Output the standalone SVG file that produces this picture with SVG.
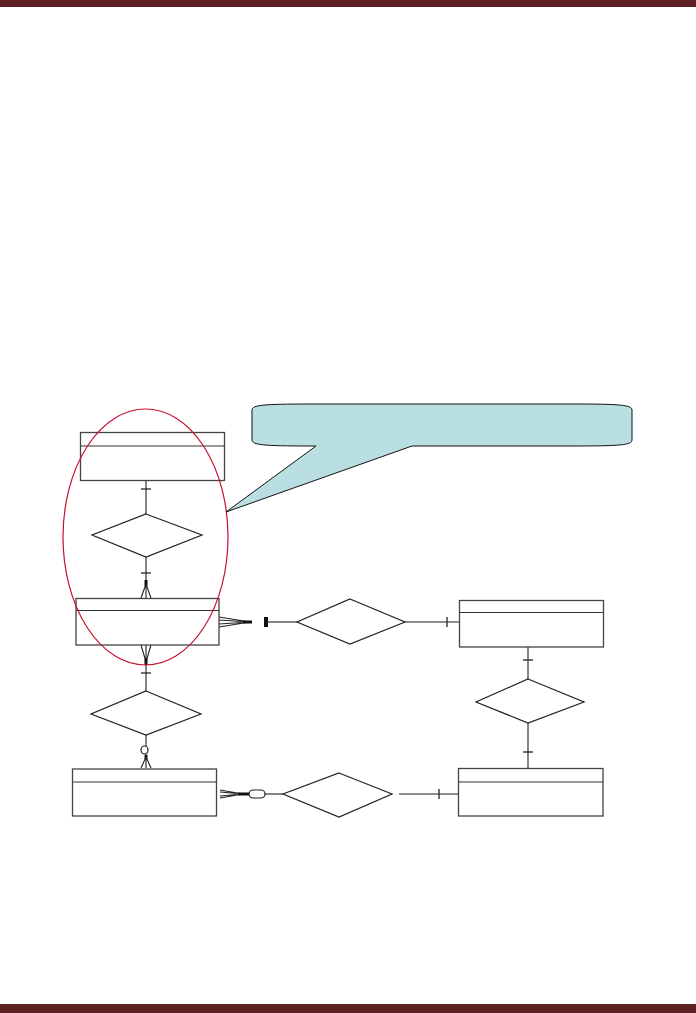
<svg xmlns="http://www.w3.org/2000/svg" width="696" height="1013" viewBox="0 0 696 1013">
<style>
.ent{fill:#fff;stroke:#444;stroke-width:1.3}
.div{stroke:#333;stroke-width:1.2}
.rel{fill:#fff;stroke:#222;stroke-width:1.2}
.ln{stroke:#222;stroke-width:1.1;fill:none}
.tk{stroke:#222;stroke-width:1.3}
.bold{stroke:#111;stroke-width:3}
</style>
<rect x="0" y="0" width="696" height="7" fill="#5e2023"/>
<rect x="0" y="1004" width="696" height="9" fill="#5e2023"/>

<g id="connectors">
  <line class="ln" x1="146" y1="480" x2="146" y2="514"/>
  <line class="tk" x1="141" y1="489" x2="151" y2="489"/>
  <line class="ln" x1="146" y1="557" x2="146" y2="584"/>
  <line class="tk" x1="141" y1="573" x2="151" y2="573"/>
  <line class="bold" x1="146" y1="580" x2="146" y2="586"/>
  <path class="ln" d="M146,584 L141,598 M146,584 L146,598 M146,584 L151,598"/>
  <path class="ln" d="M141,645 L146,662 M146,645 L146,662 M151,645 L146,662"/>
  <line class="bold" x1="146" y1="659" x2="146" y2="665"/>
  <line class="ln" x1="146" y1="662" x2="146" y2="691"/>
  <line class="tk" x1="141" y1="673" x2="151" y2="673"/>
  <line class="ln" x1="146" y1="735" x2="146" y2="746"/>
  <ellipse cx="144.5" cy="750" rx="3.5" ry="4" fill="#fff" stroke="#222" stroke-width="1.2"/>
  <line class="ln" x1="146" y1="754" x2="146" y2="758"/>
  <line class="bold" x1="146" y1="755" x2="146" y2="759"/>
  <path class="ln" d="M146,757 L141,768 M146,757 L146,768 M146,757 L151,768"/>
  <path class="ln" d="M219,617 L250,622 M219,620 L250,622 M219,624 L250,622 M219,627 L250,622"/>
  <line class="bold" x1="243" y1="622" x2="252" y2="622"/>
  <rect x="264" y="617" width="4" height="10" fill="#111"/>
  <line class="ln" x1="266" y1="622" x2="297" y2="622"/>
  <line class="ln" x1="405" y1="622" x2="459" y2="622"/>
  <line class="tk" x1="447" y1="617" x2="447" y2="627"/>
  <line class="ln" x1="528" y1="647" x2="528" y2="679"/>
  <line class="tk" x1="523" y1="660" x2="533" y2="660"/>
  <line class="ln" x1="528" y1="723" x2="528" y2="768"/>
  <line class="tk" x1="523" y1="752" x2="533" y2="752"/>
  <path class="ln" d="M220,790 L243,794 M220,792 L243,794 M220,796 L243,794 M220,798 L243,794"/>
  <line class="bold" x1="238" y1="794" x2="249" y2="794"/>
  <rect x="249" y="790" width="16" height="8" rx="4" fill="#fff" stroke="#222" stroke-width="1.2"/>
  <line class="ln" x1="265" y1="794" x2="283" y2="794"/>
  <line class="ln" x1="399" y1="794" x2="458" y2="794"/>
  <line class="tk" x1="439" y1="789" x2="439" y2="799"/>
</g>

<g id="entity1">
  <rect class="ent" x="80.5" y="432.5" width="144" height="48"/>
  <line class="div" x1="81" y1="446" x2="224" y2="446"/>
</g>
<g id="entity2">
  <rect class="ent" x="76" y="598.5" width="143" height="46.5"/>
  <line class="div" x1="76" y1="610.5" x2="219" y2="610.5"/>
</g>
<g id="entity3">
  <rect class="ent" x="459.5" y="600.5" width="144" height="46.5"/>
  <line class="div" x1="460" y1="612.5" x2="603" y2="612.5"/>
</g>
<g id="entity4">
  <rect class="ent" x="72.5" y="769" width="144" height="47"/>
  <line class="div" x1="73" y1="782" x2="216" y2="782"/>
</g>
<g id="entity5">
  <rect class="ent" x="458.5" y="768.5" width="144.5" height="47.5"/>
  <line class="div" x1="459" y1="782" x2="603" y2="782"/>
</g>

<g id="rel1"><polygon class="rel" points="146,514 202,535 146,557 92,535"/></g>
<g id="rel2"><polygon class="rel" points="350,599 405,622 350,644 297,622"/></g>
<g id="rel3"><polygon class="rel" points="146,691 201,714 146,735 91,714"/></g>
<g id="rel4"><polygon class="rel" points="528,679 584,702 528,723 476,702"/></g>
<g id="rel5"><polygon class="rel" points="339,773 392,794 339,817 283,794"/></g>

<g id="highlight">
  <ellipse cx="145.5" cy="537" rx="82.5" ry="128" fill="none" stroke="#c8102e" stroke-width="1.2"/>
</g>

<g id="callout">
  <path d="M310,404 L575,404 C620,404 632,405 632,410 L632,440 C632,445 620,446 575,446 L412,446 L226,512 L316,446 L310,446 C264,446 252,445 252,440 L252,410 C252,405 264,404 310,404 Z" fill="#badfe2" stroke="#111" stroke-width="1"/>
</g>
</svg>
